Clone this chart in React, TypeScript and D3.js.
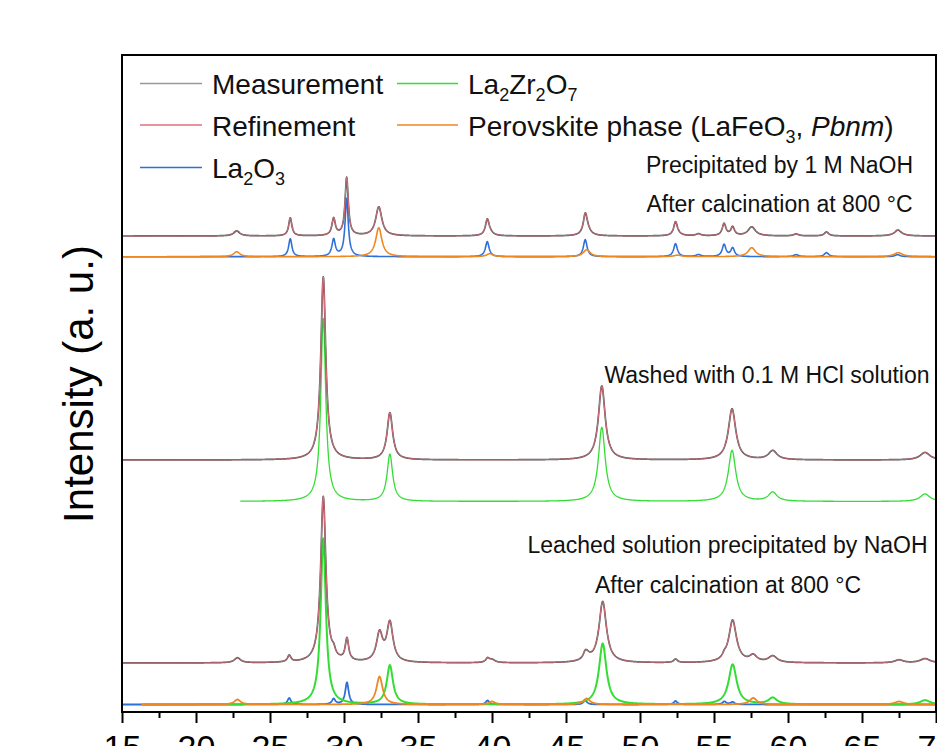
import React, { useRef, useEffect } from "react";
import * as d3 from "d3";

const W = 937;
const H = 746;
const FONT = "'Liberation Sans', Arial, Helvetica, sans-serif";

// reflection lists: [2theta (deg), height (a.u.), FWHM (deg)]
// top pattern: precipitated by 1 M NaOH
const la2o3Top = [
  [26.37, 18, 0.26], [29.3, 17, 0.28], [30.18, 58, 0.26], [39.68, 15, 0.3],
  [46.3, 17, 0.3], [52.4, 13, 0.3], [53.95, 2, 0.4], [55.68, 12, 0.3],
  [56.26, 8.5, 0.3], [60.55, 2, 0.4], [62.6, 4, 0.35], [67.4, 2, 0.4],
];
const perovTop = [
  [22.75, 5, 0.5], [32.35, 29, 0.5], [39.85, 3, 0.5], [46.4, 7, 0.55],
  [52.55, 1.5, 0.6], [57.55, 9, 0.6], [67.45, 4, 0.7],
];
// middle pattern: washed with 0.1 M HCl
const la2zr2o7Mid = [
  [28.6, 183, 0.4], [33.1, 47, 0.45], [47.42, 74, 0.55],
  [56.22, 51, 0.6], [58.97, 9, 0.7], [69.26, 7.5, 0.8],
];
// bottom pattern: leached solution precipitated by NaOH
const la2o3Bot = [
  [26.3, 6.5, 0.28], [29.3, 5.5, 0.28], [30.2, 22, 0.28], [39.7, 4, 0.3],
  [46.3, 4, 0.3], [52.4, 3.5, 0.3], [55.7, 3, 0.3], [56.25, 2.5, 0.3],
];
const perovBot = [
  [22.8, 5, 0.5], [32.4, 28, 0.5], [40.0, 3, 0.5], [46.4, 6, 0.55],
  [57.65, 6.5, 0.6], [67.5, 3, 0.7],
];
const la2zr2o7Bot = [
  [28.6, 166, 0.42], [33.1, 39, 0.5], [47.48, 61, 0.6],
  [56.26, 40, 0.65], [58.97, 6.5, 0.7], [69.26, 4.3, 0.8],
];

// vertical offsets of each trace (a.u.)
const topPhaseBase = 455.3;
const topFitBase = 476;
const midPhaseBase = 210.5;
const midFitBase = 252;
const botPhaseBase = 7.5;
const botFitBase = 49;

const xTicks = [15, 20, 25, 30, 35, 40, 45, 50, 55, 60, 65, 70];
const xMinor = [17.5, 22.5, 27.5, 32.5, 37.5, 42.5, 47.5, 52.5, 57.5, 62.5, 67.5];

const colors = {
  meas: "#555555",
  fit: "#e0707e",
  la2o3: "#2f6fd8",
  la2zr2o7: "#33dd33",
  perov: "#f0861e",
};

const x = d3.scaleLinear().domain([15, 70]).range([122, 936]);
const y = d3.scaleLinear().domain([0, 657]).range([712, 55]);

const grid = d3.range(15, 70.001, 0.02);

const sumPeaks = (lists, t) => {
  let s = 0;
  lists.forEach((peaks) =>
    peaks.forEach(([c, h, w]) => {
      const u = (t - c) / (w / 2);
      s += h / (1 + u * u);
    })
  );
  return s;
};

const trace = (lists, base, from = 15) =>
  grid.filter((t) => t >= from).map((t) => [t, base + sumPeaks(lists, t)]);

const lineGen = d3.line().x((d) => x(d[0])).y((d) => y(d[1]));

const App = () => {
  const axisRef = useRef();

  useEffect(() => {
    const g = d3.select(axisRef.current);
    g.selectAll("*").remove();
    const major = d3.axisBottom(x).tickValues(xTicks).tickSize(11).tickPadding(12).tickSizeOuter(0);
    const minor = d3.axisBottom(x).tickValues(xMinor).tickSize(6).tickFormat(() => "").tickSizeOuter(0);
    g.append("g").call(minor).call((s) => s.select(".domain").remove());
    g.append("g")
      .call(major)
      .attr("font-size", 34)
      .attr("font-family", FONT)
      .call((s) => s.select(".domain").remove());
    g.selectAll("line").attr("stroke", "#000").attr("stroke-width", 2);
    g.selectAll("text").attr("fill", "#000");
  }, []);

  const topFit = trace([la2o3Top, perovTop], topFitBase);
  const midFit = trace([la2zr2o7Mid], midFitBase);
  const botFit = trace([la2o3Bot, perovBot, la2zr2o7Bot], botFitBase);

  const fitPair = (data, key) => (
    <g key={key}>
      <path d={lineGen(data)} fill="none" stroke={colors.meas} strokeWidth={1.7} />
      <path d={lineGen(data)} fill="none" stroke={colors.fit} strokeWidth={1} />
    </g>
  );

  const sub = (t) => (
    <tspan fontSize={18} dy={7}>{t}</tspan>
  );

  return (
    <svg width={W} height={H} style={{ position: "absolute", left: 0, top: 0, background: "#fff" }}>
      <defs>
        <clipPath id="plot-area">
          <rect x={122} y={55} width={814} height={657} />
        </clipPath>
      </defs>

      <g clipPath="url(#plot-area)" strokeLinejoin="round">
        {/* top pattern */}
        <path d={lineGen(trace([la2o3Top], topPhaseBase))} fill="none" stroke={colors.la2o3} strokeWidth={1.6} />
        <path d={lineGen(trace([perovTop], topPhaseBase))} fill="none" stroke={colors.perov} strokeWidth={1.6} />
        {fitPair(topFit, "top")}

        {/* middle pattern */}
        <path d={lineGen(trace([la2zr2o7Mid], midPhaseBase, 23.0))} fill="none" stroke={colors.la2zr2o7} strokeWidth={1.3} />
        {fitPair(midFit, "mid")}

        {/* bottom pattern */}
        <path d={lineGen(trace([la2o3Bot], botPhaseBase))} fill="none" stroke={colors.la2o3} strokeWidth={1.8} />
        <path d={lineGen(trace([la2zr2o7Bot], botPhaseBase, 16.5))} fill="none" stroke={colors.la2zr2o7} strokeWidth={2} />
        <path d={lineGen(trace([perovBot], botPhaseBase, 16.3))} fill="none" stroke={colors.perov} strokeWidth={1.8} />
        {fitPair(botFit, "bot")}
      </g>

      {/* frame */}
      <rect x={122} y={55} width={814} height={657} fill="none" stroke="#000" strokeWidth={2} />
      <g ref={axisRef} transform="translate(0,712)" />

      {/* y title */}
      <text transform="translate(93,384) rotate(-90)" textAnchor="middle" fontFamily={FONT} fontSize={42} fill="#000">
        Intensity (a. u.)
      </text>

      {/* legend */}
      <g fontFamily={FONT} fontSize={28} fill="#111">
        <line x1={140} x2={202} y1={83.5} y2={83.5} stroke="#999" strokeWidth={1.5} />
        <text x={212} y={94}>Measurement</text>
        <line x1={140} x2={202} y1={125} y2={125} stroke={colors.fit} strokeWidth={1.5} />
        <text x={212} y={135.5}>Refinement</text>
        <line x1={140} x2={202} y1={167.5} y2={167.5} stroke={colors.la2o3} strokeWidth={1.5} />
        <text x={212} y={177.5}>
          La{sub("2")}<tspan dy={-7}>O</tspan>{sub("3")}
        </text>
        <line x1={397} x2={458} y1={83.5} y2={83.5} stroke={colors.la2zr2o7} strokeWidth={1.5} />
        <text x={468} y={94}>
          La{sub("2")}<tspan dy={-7}>Zr</tspan>{sub("2")}<tspan dy={-7}>O</tspan>{sub("7")}
        </text>
        <line x1={397} x2={458} y1={125} y2={125} stroke={colors.perov} strokeWidth={1.5} />
        <text x={468} y={135.5}>
          Perovskite phase (LaFeO{sub("3")}<tspan dy={-7}>, </tspan>
          <tspan fontStyle="italic">Pbnm</tspan>)
        </text>
      </g>

      {/* sample annotations */}
      <g fontFamily={FONT} fontSize={23} fill="#111" textAnchor="middle">
        <text x={779.5} y={173.3}>Precipitated by 1 M NaOH</text>
        <text x={779.5} y={211.7}>After calcination at 800 °C</text>
        <text x={767} y={383.3}>Washed with 0.1 M HCl solution</text>
        <text x={727.5} y={553.3}>Leached solution precipitated by NaOH</text>
        <text x={728} y={593.3}>After calcination at 800 °C</text>
      </g>
    </svg>
  );
};

export default App;
